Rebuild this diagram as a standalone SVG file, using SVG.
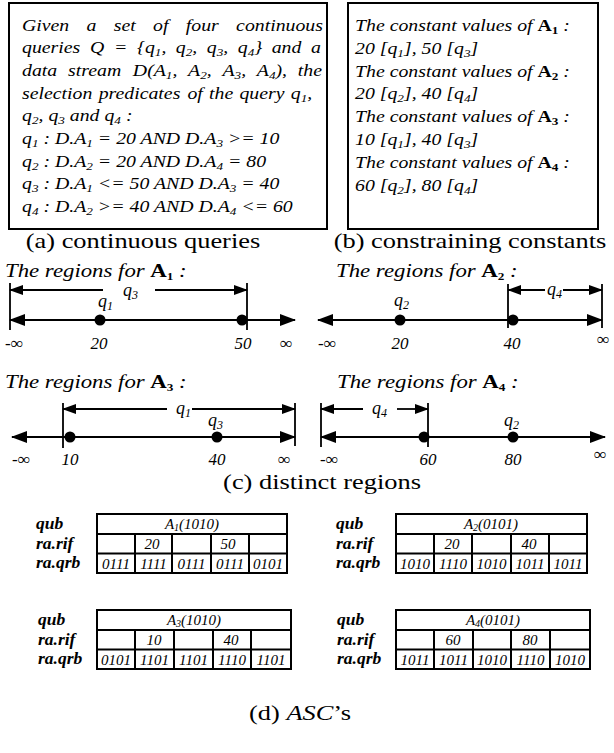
<svg xmlns="http://www.w3.org/2000/svg" width="614" height="753" viewBox="0 0 614 753">
<style>
text{font-family:"Liberation Serif","Times New Roman",serif;fill:#000}
.bt{font-size:16.5px;font-style:italic}
.sb{font-size:11px}
.cap{font-size:22px}
.rt{font-size:19px;font-style:italic}
.bd{font-weight:bold;font-style:normal}
.nl{font-size:17px;font-style:italic}
.ql{font-size:18px;font-style:italic}
.qs{font-size:12px}
.tl{font-size:17.5px;font-style:italic;font-weight:bold}
.tc{font-size:15px;font-style:italic}
.box{fill:none;stroke:#000;stroke-width:2}
.tb{fill:none;stroke:#000;stroke-width:2}
.tk{stroke:#000;stroke-width:1.8}
.ml{stroke:#000;stroke-width:2.2}
.qa{stroke:#000;stroke-width:1.8}
.dot{fill:#000}
</style>
<defs>
<marker id="ahL" viewBox="0 0 16 12" markerWidth="16" markerHeight="12" refX="15" refY="6" orient="auto-start-reverse" markerUnits="userSpaceOnUse"><path d="M0,0 L16,6 L0,12 z" fill="#000"/></marker>
<marker id="ahS" viewBox="0 0 14 10" markerWidth="14" markerHeight="10" refX="13" refY="5" orient="auto-start-reverse" markerUnits="userSpaceOnUse"><path d="M0,0 L14,5 L0,10 z" fill="#000"/></marker>
</defs>

<g id="box-a">
<rect class="box" x="9" y="3" width="318" height="226"/>
<text class="bt" transform="translate(0,30.5) scale(1.2,1)"><tspan x="18.33">Given</tspan><tspan x="72.17">a</tspan><tspan x="94.83">set</tspan><tspan x="127.58">of</tspan><tspan x="154.83">four</tspan><tspan x="196.75">continuous</tspan></text>
<text class="bt" transform="translate(0,53.2) scale(1.2,1)"><tspan x="18.33">queries</tspan><tspan x="74.98">Q</tspan><tspan x="94.96">=</tspan><tspan x="114.16">{q</tspan><tspan class="sb" dy="3">1</tspan><tspan dy="-3">,</tspan><tspan x="146.56">q</tspan><tspan class="sb" dy="3">2</tspan><tspan dy="-3">,</tspan><tspan x="172.37">q</tspan><tspan class="sb" dy="3">3</tspan><tspan dy="-3">,</tspan><tspan x="198.18">q</tspan><tspan class="sb" dy="3">4</tspan><tspan dy="-3">}</tspan><tspan x="226.45">and</tspan><tspan x="259.25">a</tspan></text>
<text class="bt" transform="translate(0,75.9) scale(1.2,1)"><tspan x="18.33">data</tspan><tspan x="56.73">stream</tspan><tspan x="110.72">D(A</tspan><tspan class="sb" dy="3">1</tspan><tspan dy="-3">,</tspan><tspan x="156.76">A</tspan><tspan class="sb" dy="3">2</tspan><tspan dy="-3">,</tspan><tspan x="185.39">A</tspan><tspan class="sb" dy="3">3</tspan><tspan dy="-3">,</tspan><tspan x="214.03">A</tspan><tspan class="sb" dy="3">4</tspan><tspan dy="-3">),</tspan><tspan x="248.16">the</tspan></text>
<text class="bt" transform="translate(0,98.6) scale(1.2,1)"><tspan x="18.33">selection</tspan><tspan x="82.2">predicates</tspan><tspan x="156.15">of</tspan><tspan x="174.18">the</tspan><tspan x="199.55">query</tspan><tspan x="242.32">q</tspan><tspan class="sb" dy="3">1</tspan><tspan dy="-3">,</tspan></text>
<text class="bt" transform="translate(22,121.3) scale(1.2,1)">q<tspan class="sb" dy="3">2</tspan><tspan dy="-3">, q</tspan><tspan class="sb" dy="3">3</tspan><tspan dy="-3"> and q</tspan><tspan class="sb" dy="3">4</tspan><tspan dy="-3"> :</tspan></text>
<text class="bt" transform="translate(22,144) scale(1.2,1)">q<tspan class="sb" dy="3">1</tspan><tspan dy="-3"> : D.A</tspan><tspan class="sb" dy="3">1</tspan><tspan dy="-3"> = 20 AND D.A</tspan><tspan class="sb" dy="3">3</tspan><tspan dy="-3"> &gt;= 10</tspan></text>
<text class="bt" transform="translate(22,166.7) scale(1.2,1)">q<tspan class="sb" dy="3">2</tspan><tspan dy="-3"> : D.A</tspan><tspan class="sb" dy="3">2</tspan><tspan dy="-3"> = 20 AND D.A</tspan><tspan class="sb" dy="3">4</tspan><tspan dy="-3"> = 80</tspan></text>
<text class="bt" transform="translate(22,189.4) scale(1.2,1)">q<tspan class="sb" dy="3">3</tspan><tspan dy="-3"> : D.A</tspan><tspan class="sb" dy="3">1</tspan><tspan dy="-3"> &lt;= 50 AND D.A</tspan><tspan class="sb" dy="3">3</tspan><tspan dy="-3"> = 40</tspan></text>
<text class="bt" transform="translate(22,212.1) scale(1.2,1)">q<tspan class="sb" dy="3">4</tspan><tspan dy="-3"> : D.A</tspan><tspan class="sb" dy="3">2</tspan><tspan dy="-3"> &gt;= 40 AND D.A</tspan><tspan class="sb" dy="3">4</tspan><tspan dy="-3"> &lt;= 60</tspan></text>
</g>

<g id="box-b">
<rect class="box" x="348" y="3" width="250" height="226"/>
<text class="bt" transform="translate(355,31) scale(1.2,1)">The constant values of <tspan class="bd">A</tspan><tspan class="sb bd" dy="3">1</tspan><tspan dy="-3"> :</tspan></text>
<text class="bt" transform="translate(355,53.8) scale(1.2,1)">20 [q<tspan class="sb" dy="3">1</tspan><tspan dy="-3">], 50 [q</tspan><tspan class="sb" dy="3">3</tspan><tspan dy="-3">]</tspan></text>
<text class="bt" transform="translate(355,76.6) scale(1.2,1)">The constant values of <tspan class="bd">A</tspan><tspan class="sb bd" dy="3">2</tspan><tspan dy="-3"> :</tspan></text>
<text class="bt" transform="translate(355,99.4) scale(1.2,1)">20 [q<tspan class="sb" dy="3">2</tspan><tspan dy="-3">], 40 [q</tspan><tspan class="sb" dy="3">4</tspan><tspan dy="-3">]</tspan></text>
<text class="bt" transform="translate(355,122.2) scale(1.2,1)">The constant values of <tspan class="bd">A</tspan><tspan class="sb bd" dy="3">3</tspan><tspan dy="-3"> :</tspan></text>
<text class="bt" transform="translate(355,145) scale(1.2,1)">10 [q<tspan class="sb" dy="3">1</tspan><tspan dy="-3">], 40 [q</tspan><tspan class="sb" dy="3">3</tspan><tspan dy="-3">]</tspan></text>
<text class="bt" transform="translate(355,167.8) scale(1.2,1)">The constant values of <tspan class="bd">A</tspan><tspan class="sb bd" dy="3">4</tspan><tspan dy="-3"> :</tspan></text>
<text class="bt" transform="translate(355,190.6) scale(1.2,1)">60 [q<tspan class="sb" dy="3">2</tspan><tspan dy="-3">], 80 [q</tspan><tspan class="sb" dy="3">4</tspan><tspan dy="-3">]</tspan></text>
</g>

<g id="captions">
<text class="cap" text-anchor="middle" transform="translate(143,248) scale(1.2,1)">(a) continuous queries</text>
<text class="cap" text-anchor="middle" transform="translate(470,248) scale(1.2,1)">(b) constraining constants</text>
<text class="cap" text-anchor="middle" transform="translate(322,489) scale(1.2,1)">(c) distinct regions</text>
<text class="cap" text-anchor="middle" transform="translate(300,720) scale(1.2,1)">(d) <tspan font-style="italic">ASC</tspan>’s</text>
</g>

<g id="regions-A1">
<text class="rt" transform="translate(5,277) scale(1.2,1)">The regions for <tspan class="bd">A</tspan><tspan class="sb bd" font-size="12" dy="3">1</tspan><tspan dy="-3"> :</tspan></text>
<line class="tk" x1="10" y1="283" x2="10" y2="330"/>
<line class="tk" x1="247" y1="283" x2="247" y2="330"/>
<circle class="dot" cx="100" cy="320" r="5.5"/>
<circle class="dot" cx="242" cy="320" r="5.5"/>
<text class="ql" x="98" y="307">q<tspan class="qs" dy="3">1</tspan></text>
<text class="ql" x="123" y="296">q<tspan class="qs" dy="3">3</tspan></text>
<text class="nl" x="5" y="349">-∞</text>
<text class="nl" x="99" y="349" text-anchor="middle">20</text>
<text class="nl" x="243" y="349" text-anchor="middle">50</text>
<text class="nl" x="286" y="349" text-anchor="middle">∞</text>
</g>

<g id="regions-A2">
<text class="rt" transform="translate(336,277) scale(1.2,1)">The regions for <tspan class="bd">A</tspan><tspan class="sb bd" font-size="12" dy="3">2</tspan><tspan dy="-3"> :</tspan></text>
<line class="tk" x1="508" y1="284" x2="508" y2="328"/>
<line class="tk" x1="602" y1="284" x2="602" y2="328"/>
<circle class="dot" cx="400" cy="320" r="5.5"/>
<circle class="dot" cx="513" cy="320" r="5.5"/>
<text class="ql" x="394" y="306">q<tspan class="qs" dy="3">2</tspan></text>
<text class="ql" x="547" y="295">q<tspan class="qs" dy="3">4</tspan></text>
<text class="nl" x="318" y="349">-∞</text>
<text class="nl" x="400" y="349" text-anchor="middle">20</text>
<text class="nl" x="512" y="349" text-anchor="middle">40</text>
<text class="nl" x="603" y="345" text-anchor="middle">∞</text>
</g>

<g id="regions-A3">
<text class="rt" transform="translate(5,388) scale(1.2,1)">The regions for <tspan class="bd">A</tspan><tspan class="sb bd" font-size="12" dy="3">3</tspan><tspan dy="-3"> :</tspan></text>
<line class="tk" x1="63" y1="403" x2="63" y2="448"/>
<line class="tk" x1="295" y1="403" x2="295" y2="446"/>
<circle class="dot" cx="70" cy="437" r="5.5"/>
<circle class="dot" cx="217" cy="437" r="5.5"/>
<text class="ql" x="176" y="414">q<tspan class="qs" dy="3">1</tspan></text>
<text class="ql" x="208" y="426">q<tspan class="qs" dy="3">3</tspan></text>
<text class="nl" x="12" y="465">-∞</text>
<text class="nl" x="70" y="465" text-anchor="middle">10</text>
<text class="nl" x="217" y="465" text-anchor="middle">40</text>
<text class="nl" x="284" y="465" text-anchor="middle">∞</text>
</g>

<g id="regions-A4">
<text class="rt" transform="translate(337,388) scale(1.2,1)">The regions for <tspan class="bd">A</tspan><tspan class="sb bd" font-size="12" dy="3">4</tspan><tspan dy="-3"> :</tspan></text>
<line class="tk" x1="321" y1="403" x2="321" y2="447"/>
<line class="tk" x1="428" y1="403" x2="428" y2="447"/>
<circle class="dot" cx="424" cy="437" r="5.5"/>
<circle class="dot" cx="513" cy="437" r="5.5"/>
<text class="ql" x="372" y="414">q<tspan class="qs" dy="3">4</tspan></text>
<text class="ql" x="504" y="426">q<tspan class="qs" dy="3">2</tspan></text>
<text class="nl" x="320" y="465">-∞</text>
<text class="nl" x="428" y="465" text-anchor="middle">60</text>
<text class="nl" x="513" y="465" text-anchor="middle">80</text>
<text class="nl" x="600" y="460" text-anchor="middle">∞</text>
</g>

<g id="connectors">
<line class="ml" x1="10" y1="320" x2="295" y2="320" marker-start="url(#ahL)" marker-end="url(#ahL)"/>
<line class="qa" x1="10" y1="290" x2="103" y2="290" marker-start="url(#ahS)"/>
<line class="qa" x1="155" y1="290" x2="247" y2="290" marker-end="url(#ahS)"/>
<line class="ml" x1="318" y1="320" x2="602" y2="320" marker-start="url(#ahL)" marker-end="url(#ahL)"/>
<line class="qa" x1="508" y1="290" x2="545" y2="290" marker-start="url(#ahS)"/>
<line class="qa" x1="563" y1="290" x2="602" y2="290" marker-end="url(#ahS)"/>
<line class="ml" x1="12" y1="437" x2="295" y2="437" marker-start="url(#ahL)" marker-end="url(#ahL)"/>
<line class="qa" x1="63" y1="409" x2="167" y2="409" marker-start="url(#ahS)"/>
<line class="qa" x1="192" y1="409" x2="295" y2="409" marker-end="url(#ahS)"/>
<line class="ml" x1="321" y1="437" x2="605" y2="437" marker-start="url(#ahL)" marker-end="url(#ahL)"/>
<line class="qa" x1="321" y1="409" x2="363" y2="409" marker-start="url(#ahS)"/>
<line class="qa" x1="397" y1="409" x2="428" y2="409" marker-end="url(#ahS)"/>
</g>

<g id="table-A1">
<text class="tl" x="36" y="529">qub</text>
<text class="tl" x="36" y="549">ra.rif</text>
<text class="tl" x="36" y="568">ra.qrb</text>
<rect class="tb" x="97" y="514" width="190" height="59"/>
<path class="tb" d="M97,534 H287 M97,553.5 H287 M135,534 V573 M172,534 V573 M211,534 V573 M249,534 V573"/>
<text class="tc" x="192" y="529" text-anchor="middle">A<tspan font-size="10" dy="2">1</tspan><tspan dy="-2">(1010)</tspan></text>
<text class="tc" x="152" y="549" text-anchor="middle">20</text>
<text class="tc" x="228" y="549" text-anchor="middle">50</text>
<g text-anchor="middle"><text class="tc" x="116" y="568.5">0111</text><text class="tc" x="153.5" y="568.5">1111</text><text class="tc" x="191.5" y="568.5">0111</text><text class="tc" x="230" y="568.5">0111</text><text class="tc" x="268" y="568.5">0101</text></g>
</g>

<g id="table-A2">
<text class="tl" x="336" y="529">qub</text>
<text class="tl" x="336" y="549">ra.rif</text>
<text class="tl" x="336" y="568">ra.qrb</text>
<rect class="tb" x="396" y="514" width="191" height="59"/>
<path class="tb" d="M396,534 H587 M396,553.5 H587 M434,534 V573 M472,534 V573 M511,534 V573 M549,534 V573"/>
<text class="tc" x="491" y="529" text-anchor="middle">A<tspan font-size="10" dy="2">2</tspan><tspan dy="-2">(0101)</tspan></text>
<text class="tc" x="452" y="549" text-anchor="middle">20</text>
<text class="tc" x="529" y="549" text-anchor="middle">40</text>
<g text-anchor="middle"><text class="tc" x="415" y="568.5">1010</text><text class="tc" x="453" y="568.5">1110</text><text class="tc" x="491.5" y="568.5">1010</text><text class="tc" x="530" y="568.5">1011</text><text class="tc" x="568" y="568.5">1011</text></g>
</g>

<g id="table-A3">
<text class="tl" x="38" y="625">qub</text>
<text class="tl" x="38" y="644.5">ra.rif</text>
<text class="tl" x="38" y="664">ra.qrb</text>
<rect class="tb" x="97" y="610" width="194" height="59"/>
<path class="tb" d="M97,630 H291 M97,649.5 H291 M135,630 V669 M174,630 V669 M213,630 V669 M251,630 V669"/>
<text class="tc" x="194" y="625" text-anchor="middle">A<tspan font-size="10" dy="2">3</tspan><tspan dy="-2">(1010)</tspan></text>
<text class="tc" x="154" y="645" text-anchor="middle">10</text>
<text class="tc" x="231" y="645" text-anchor="middle">40</text>
<g text-anchor="middle"><text class="tc" x="116" y="664.5">0101</text><text class="tc" x="154.5" y="664.5">1101</text><text class="tc" x="193.5" y="664.5">1101</text><text class="tc" x="232" y="664.5">1110</text><text class="tc" x="271" y="664.5">1101</text></g>
</g>

<g id="table-A4">
<text class="tl" x="337" y="625">qub</text>
<text class="tl" x="337" y="644.5">ra.rif</text>
<text class="tl" x="337" y="664">ra.qrb</text>
<rect class="tb" x="396" y="610" width="194" height="59"/>
<path class="tb" d="M396,630 H590 M396,649.5 H590 M434,630 V669 M473,630 V669 M511,630 V669 M550,630 V669"/>
<text class="tc" x="493" y="625" text-anchor="middle">A<tspan font-size="10" dy="2">4</tspan><tspan dy="-2">(0101)</tspan></text>
<text class="tc" x="453" y="645" text-anchor="middle">60</text>
<text class="tc" x="530" y="645" text-anchor="middle">80</text>
<g text-anchor="middle"><text class="tc" x="415" y="664.5">1011</text><text class="tc" x="453.5" y="664.5">1011</text><text class="tc" x="492" y="664.5">1010</text><text class="tc" x="530.5" y="664.5">1110</text><text class="tc" x="570" y="664.5">1010</text></g>
</g>
</svg>
